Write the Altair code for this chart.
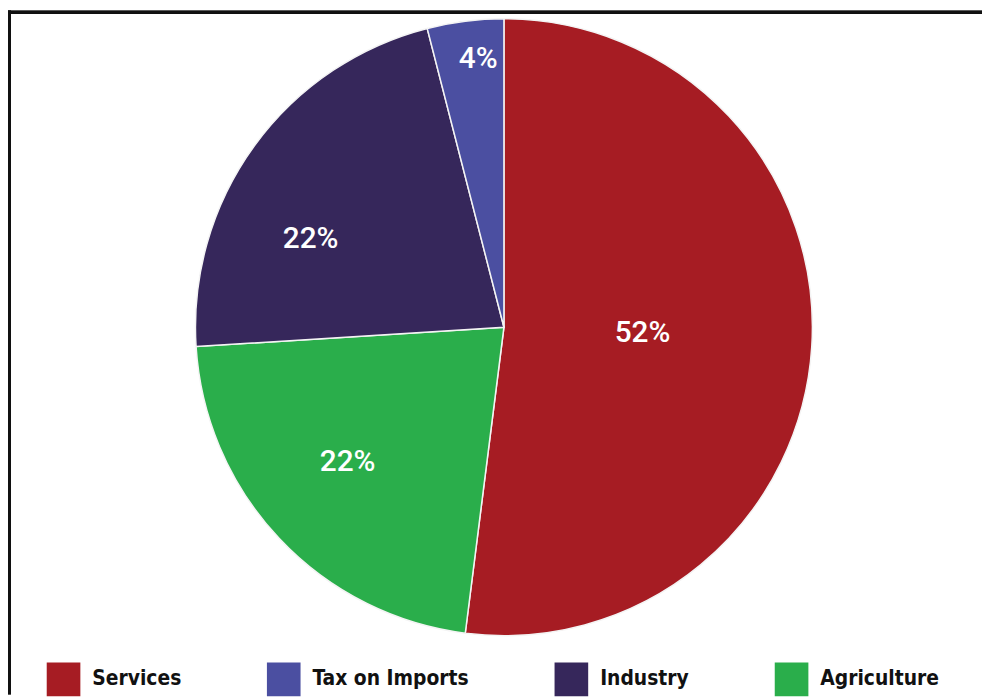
import altair as alt
import pandas as pd

# slice order clockwise from 12 o'clock
categories = ["Services", "Agriculture", "Industry", "Tax on Imports"]
values = [52, 22, 22, 4]
labels = ["52%", "22%", "22%", "4%"]

legend_order = ["Services", "Tax on Imports", "Industry", "Agriculture"]
legend_colors = ["#A61C23", "#4B4FA1", "#36275B", "#2AAE4B"]

df = pd.DataFrame({
    "category": categories,
    "value": values,
    "label": labels,
    "order": list(range(len(categories))),
})

W, H = 982, 689
CX, CY = 500, 319
R = 311

theta_scale = alt.Scale(domain=[0, 100])

arcs = alt.Chart(df).mark_arc(outerRadius=R, stroke="#f4f4f4", strokeWidth=1.5).encode(
    theta=alt.Theta("value:Q", stack=True, scale=theta_scale),
    order=alt.Order("order:Q"),
    x=alt.value(CX),
    y=alt.value(CY),
    color=alt.Color(
        "category:N",
        scale=alt.Scale(domain=legend_order, range=legend_colors),
        legend=alt.Legend(
            title=None,
            orient="none",
            legendX=39,
            legendY=657,
            direction="horizontal",
            symbolType="square",
            symbolSize=1150,
            symbolStrokeWidth=0,
            symbolOpacity=1,
            labelFont="'DejaVu Sans Condensed', Roboto, sans-serif",
            labelFontWeight="bold",
            labelFontSize=21,
            labelColor="#111111",
            labelOffset=12,
            columnPadding=86,
            padding=0,
            labelLimit=300,
        ),
    ),
)

# mid-angle of each slice, computed by the library's transforms
label_base = alt.Chart(df).transform_window(
    cum="sum(value)", sort=[alt.SortField("order")]
).transform_calculate(
    mid="datum.cum - datum.value / 2"
)

def label_layer(cat, radius, dx=0, dy=0):
    return label_base.transform_filter(
        alt.datum.category == cat
    ).mark_text(
        radius=radius, dx=dx, dy=dy,
        font="Roboto", fontSize=30, fontWeight=500, color="white",
        align="center", baseline="middle",
    ).encode(
        theta=alt.Theta("mid:Q", stack=None, scale=theta_scale),
        x=alt.value(CX),
        y=alt.value(CY),
        text="label:N",
    )

texts = [
    label_layer("Services", 140, 0, -3),
    label_layer("Agriculture", 208, -6, -6),
    label_layer("Industry", 215, -21, 38),
    label_layer("Tax on Imports", 271, 8, -1),
]

frame_top = alt.Chart(df).mark_rule(color="#111111", strokeWidth=3).encode(
    x=alt.value(0), x2=alt.value(W), y=alt.value(1.5)
)
frame_left = alt.Chart(df).mark_rule(color="#111111", strokeWidth=3).encode(
    x=alt.value(1.5), y=alt.value(0), y2=alt.value(H)
)

chart = alt.layer(arcs, *texts, frame_top, frame_left).properties(
    width=W,
    height=H,
    padding=0,
    autosize=alt.AutoSizeParams(type="none"),
    background="white",
).configure_view(stroke=None)

chart.save("out.html", embed_options={"renderer": "svg", "actions": False})
